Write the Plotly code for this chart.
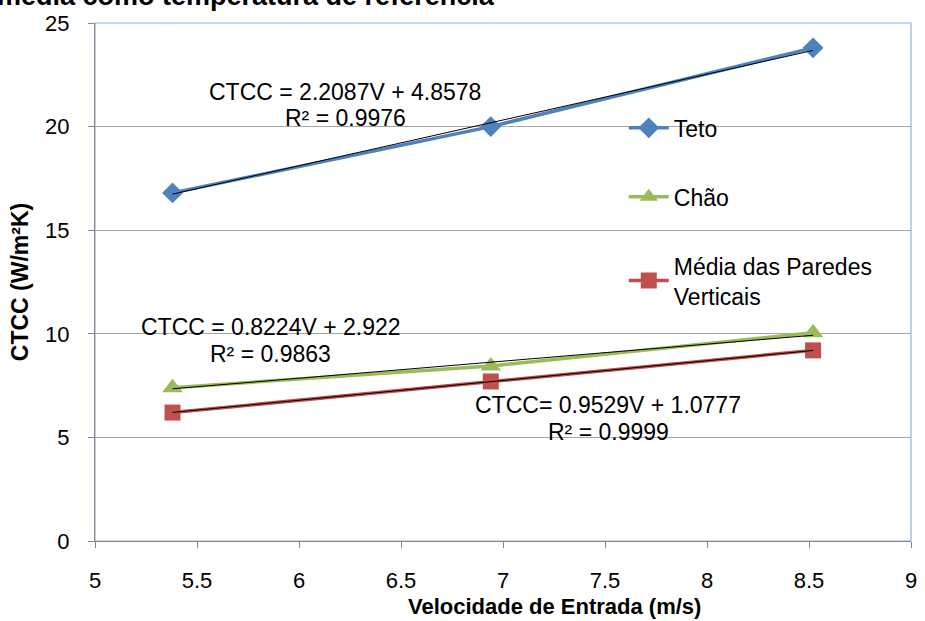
import plotly.graph_objects as go
import numpy as np

# ---- data ----
velocidade = [5.38, 6.94, 8.52]
teto = [16.8, 20.0, 23.8]
chao = [7.4, 8.45, 10.05]
media_paredes = [6.2, 7.7, 9.2]

series_names = ["Teto", "Chão", "Média das Paredes<br>Verticais"]
series_colors = ["#4F81BD", "#9BBB59", "#C0504D"]
series_symbols = ["diamond", "triangle-up", "square"]

fit_slopes = [2.2087, 0.8224, 0.9529]
fit_intercepts = [4.8578, 2.922, 1.0777]
eq_labels = ["CTCC = 2.2087V + 4.8578", "CTCC = 0.8224V + 2.922", "CTCC= 0.9529V + 1.0777"]
r2_labels = ["R² = 0.9976", "R² = 0.9863", "R² = 0.9999"]
eq_x = [6.226, 5.861, 7.516]
eq_y = [21.67, 10.33, 6.56]
r2_y = [20.41, 9.03, 5.26]

x_ticks = [5, 5.5, 6, 6.5, 7, 7.5, 8, 8.5, 9]
y_ticks = [0, 5, 10, 15, 20, 25]

fig = go.Figure()
all_y = [teto, chao, media_paredes]
sizes = [16, 18, 16]
for i in range(3):
    fig.add_trace(go.Scatter(
        x=velocidade, y=all_y[i], mode="lines+markers", name=series_names[i],
        line=dict(color=series_colors[i], width=3.5),
        marker=dict(symbol=series_symbols[i], size=sizes[i], color=series_colors[i]),
        legendgroup=str(i),
    ))
for i in range(3):
    xs = np.array([velocidade[0], velocidade[-1]])
    fig.add_trace(go.Scatter(
        x=xs, y=fit_slopes[i] * xs + fit_intercepts[i], mode="lines",
        line=dict(color="black", width=1), showlegend=False, hoverinfo="skip",
    ))

afont = dict(family="Liberation Sans, Arial", size=23, color="black")
for i in range(3):
    fig.add_annotation(x=eq_x[i], y=eq_y[i], text=eq_labels[i], showarrow=False,
                       font=afont, xanchor="center", yanchor="middle")
    fig.add_annotation(x=eq_x[i], y=r2_y[i], text=r2_labels[i], showarrow=False,
                       font=afont, xanchor="center", yanchor="middle")

# partially visible title above the chart (cut by the page top, as in the reference)
fig.add_annotation(xref="paper", yref="paper", x=-0.122, y=1.0195,
                   text="<b>média como temperatura de referência</b>",
                   showarrow=False, xanchor="left", yanchor="bottom",
                   font=dict(family="Liberation Sans, Arial", size=27, color="black"))

# x-axis title (centred on the original, wider chart area)
fig.add_annotation(xref="paper", yref="paper", x=0.563, y=-0.1274,
                   text="<b>Velocidade de Entrada (m/s)</b>", showarrow=False,
                   xanchor="center", yanchor="middle",
                   font=dict(family="Liberation Sans, Arial", size=22, color="black"))

# plot-area border (top/right light blue)
fig.add_shape(type="rect", xref="paper", yref="paper", x0=0, y0=0, x1=1, y1=1,
              line=dict(color="#95B3D7", width=1.2), layer="below")

tickfont = dict(family="Liberation Sans Narrow, Liberation Sans, Arial", size=22, color="black")
fig.update_layout(
    width=925, height=621,
    margin=dict(l=95, r=8, t=23, b=80),
    paper_bgcolor="white", plot_bgcolor="white",
    showlegend=True,
    legend=dict(x=0.648, y=0.839, xanchor="left", yanchor="top",
                font=dict(family="Liberation Sans, Arial", size=23, color="black"),
                tracegroupgap=36, bgcolor="rgba(0,0,0,0)", itemwidth=40),
    xaxis=dict(range=[5, 9], tickvals=x_ticks, ticktext=[str(v) for v in x_ticks],
               showgrid=False, zeroline=False, showline=True, linecolor="#888888", linewidth=1,
               ticks="outside", tickcolor="#888888", ticklen=6, tickfont=tickfont,
               ticklabelstandoff=14),
    yaxis=dict(range=[0, 25], tickvals=y_ticks, showgrid=True, gridcolor="#A6A6A6", gridwidth=1,
               zeroline=False, showline=True, linecolor="#888888", linewidth=1,
               ticks="outside", tickcolor="#888888", ticklen=6, tickfont=tickfont,
               ticklabelstandoff=14,
               title=dict(text="<b>CTCC (W/m²K)</b>", standoff=10,
                          font=dict(family="Liberation Sans, Arial", size=23, color="black"))),
)

fig.write_html("out.html")
